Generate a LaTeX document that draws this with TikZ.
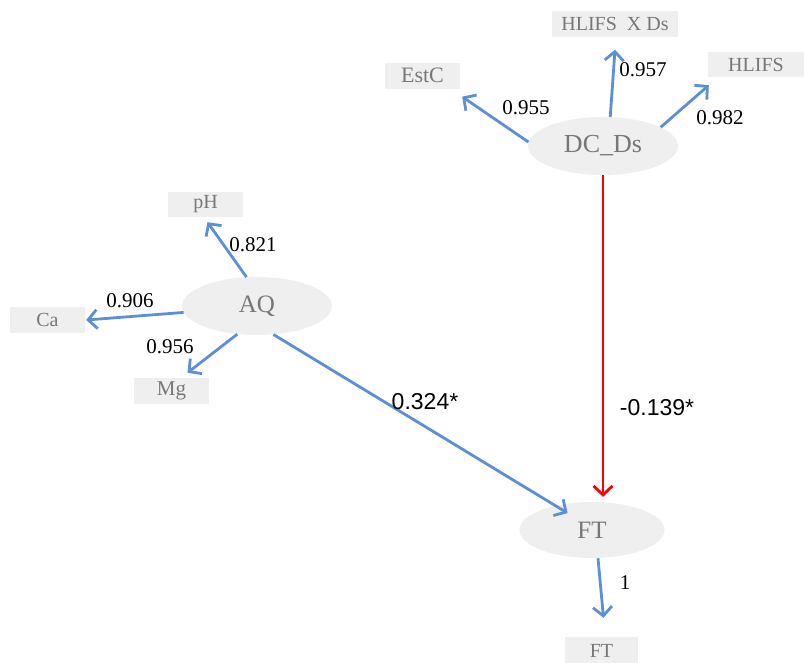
\documentclass[tikz,border=0pt]{standalone}
\usepackage{fontspec}
\setmainfont{Liberation Serif}
\newfontfamily\labsans{Liberation Sans}
\usetikzlibrary{arrows.meta,shapes.geometric}
\definecolor{pathblue}{HTML}{5B8FD6}
\definecolor{boxfill}{HTML}{EFEFEF}
\definecolor{nodetext}{HTML}{777777}
\tikzset{
  latent/.style={ellipse, fill=boxfill, draw=none, inner sep=0pt,
    minimum width=150pt, minimum height=58pt, text=nodetext,
    font=\fontsize{25}{25}\selectfont},
  indicator/.style={rectangle, fill=boxfill, draw=none, inner sep=0pt,
    minimum width=75pt, minimum height=26pt, text=nodetext,
    font=\fontsize{20}{20}\selectfont},
  loading/.style={line width=2.8pt, draw=pathblue,
    -{Straight Barb[length=9pt,width=19pt,line width=2.8pt]}},
  effect/.style={line width=2.8pt, draw=red,
    -{Straight Barb[length=9pt,width=19pt,line width=2.8pt]}},
  val/.style={inner sep=0pt, text=black, font=\fontsize{21}{21}\selectfont},
  coef/.style={inner sep=0pt, text=black, font=\labsans\fontsize{23}{23}\selectfont},
}
\begin{document}
\begin{tikzpicture}[x=1pt,y=-1pt]
\useasboundingbox (0,0) rectangle (804,662);

% latent constructs
\node[latent, font=\fontsize{26}{26}\selectfont] (dc) at (603,146) {DC\_Ds};
\node[latent] (aq) at (257,306) {AQ};
\node[latent, minimum width=145pt, minimum height=56pt] (ft) at (592,530) {FT};

% indicators
\node[indicator, font=\fontsize{22}{22}\selectfont] (estc) at (422.5,75.5) {EstC};
\node[indicator, minimum width=126pt] (hxd) at (615,23.5) {HLIFS\ \ X Ds};
\node[indicator, minimum width=96pt, minimum height=25pt] (hlifs) at (756,64.5) {HLIFS};
\node[indicator, minimum height=25pt] (ph) at (205.5,204.5) {pH};
\node[indicator] (ca) at (47.5,320) {Ca};
\node[indicator, font=\fontsize{21}{21}\selectfont] (mg) at (171.5,391) {Mg};
\node[indicator, minimum width=73pt, minimum height=28pt] (fti) at (601.5,651) {FT};

% measurement paths of DC_Ds
\draw[loading] (dc.177) -- ([xshift=2pt,yshift=-8pt]estc.south east);
\draw[loading] (dc.76) -- ([yshift=-13pt]hxd.south);
\draw[loading] (dc.18) -- ([xshift=1pt,yshift=-8pt]hlifs.south west);

% measurement paths of AQ
\draw[loading] (aq.110) -- ([xshift=2pt,yshift=-5pt]ph.south);
\draw[loading] (aq.185) -- ([xshift=1pt]ca.east);
\draw[loading] (aq.235) -- ([xshift=16pt,yshift=5pt]mg.north);

% measurement path of FT
\draw[loading] ([xshift=6pt]ft.south) -- ([xshift=2pt,yshift=19pt]fti.north);

% structural paths
\draw[loading] (aq.-60) -- ([xshift=27pt,yshift=-3pt]ft.north west);
\draw[effect] (dc.south) -- ([xshift=11pt,yshift=5pt]ft.north);

% loadings
\node[val] (l1) at (526,108) {0.955};
\node[val] (l2) at (643,70) {0.957};
\node[val] (l3) at (720,118) {0.982};
\node[val] (l4) at (253,245) {0.821};
\node[val] (l5) at (130,301) {0.906};
\node[val] (l6) at (170,347) {0.956};
\node[val] (l7) at (625,583) {1};

% path coefficients
\node[coef] (c1) at (425,402) {0.324*};
\node[coef] (c2) at (657,408) {-0.139*};
\end{tikzpicture}
\end{document}
